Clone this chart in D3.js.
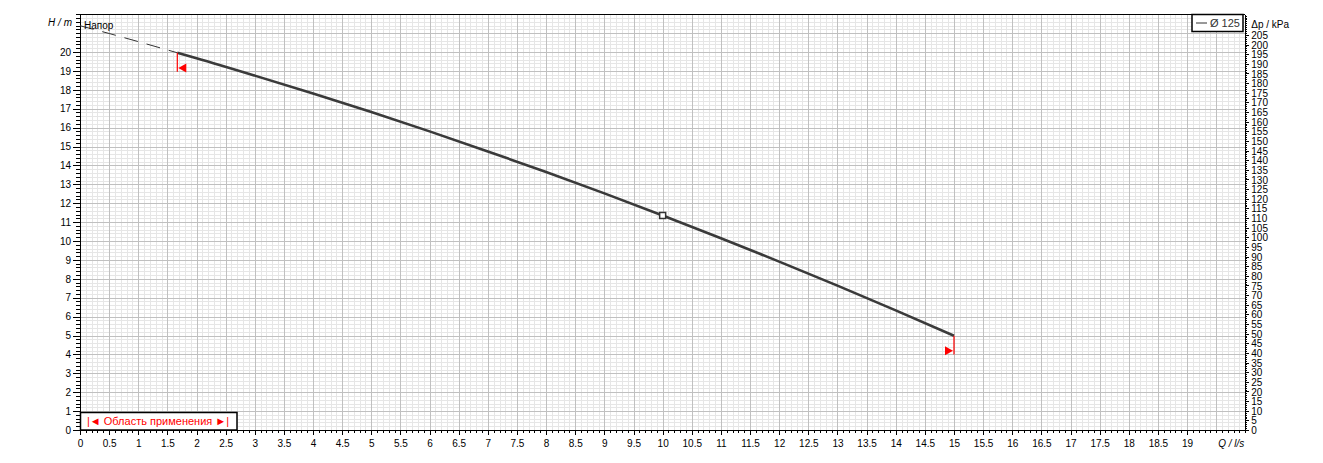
<!DOCTYPE html>
<html><head><meta charset="utf-8">
<script src="https://cdn.jsdelivr.net/npm/d3@7"></script>
<style>
html,body{margin:0;padding:0;background:#fff;}
svg{display:block;font-family:"Liberation Sans",Arial,sans-serif;}
</style></head>
<body><svg id="c" width="1323" height="463"></svg>
<script>
// ---- data ----
const dashedQ = [0, 0.5, 1.0, 1.67];
const dashedH = [21.39, 20.98, 20.55, 19.96];
const curveQ = [1.67, 2, 3, 4, 5, 6, 7, 8, 9, 10, 11, 12, 13, 14, 15];
const curveH = [19.96, 19.67, 18.75, 17.80, 16.82, 15.80, 14.74, 13.65, 12.52, 11.35, 10.15, 8.91, 7.64, 6.33, 4.99];
const dutyQ = [10];
const dutyH = [11.35];
const rangeQ = [1.67, 15];
const rangeH = [19.96, 4.99];
const xTickValues = [0,0.5,1,1.5,2,2.5,3,3.5,4,4.5,5,5.5,6,6.5,7,7.5,8,8.5,9,9.5,10,10.5,11,11.5,12,12.5,13,13.5,14,14.5,15,15.5,16,16.5,17,17.5,18,18.5,19];
const yTickValues = [0,1,2,3,4,5,6,7,8,9,10,11,12,13,14,15,16,17,18,19,20];
const kpaTickValues = d3.range(0, 206, 5);
const legendLabel = "Ø 125";
const rangeLabel = "|◄ Область применения ►|";
const curveLabel = "Напор";
const xAxisTitle = "Q / l/s";
const yAxisTitle = "H / m";
const y2AxisTitle = "Δp / kPa";

// ---- layout ----
const svg = d3.select("#c");
const L = 80, R = 1245.3, T = 14.2, B = 430;
const x = d3.scaleLinear().domain([0, 20]).range([L, R]);
const y = d3.scaleLinear().domain([0, 22]).range([B, T]);
const y2 = d3.scaleLinear().domain([0, 22 * 9.80665]).range([B, T]);

// grid
const g = svg.append("g").attr("shape-rendering", "crispEdges");
const minorX = d3.range(0, 200).map(i => i / 10).filter(v => Math.round(v * 10) % 5 !== 0);
const minorY = d3.range(0, 110).map(i => i / 5).filter(v => Math.round(v * 5) % 5 !== 0);
g.selectAll(".mx").data(minorX).join("line")
  .attr("x1", d => Math.round(x(d)) + 0.5).attr("x2", d => Math.round(x(d)) + 0.5)
  .attr("y1", T).attr("y2", B).attr("stroke", "#e6e6e6");
g.selectAll(".my").data(minorY).join("line")
  .attr("y1", d => Math.round(y(d)) + 0.5).attr("y2", d => Math.round(y(d)) + 0.5)
  .attr("x1", L).attr("x2", R).attr("stroke", "#e6e6e6");
g.selectAll(".Mx").data(d3.range(1, 40).map(i => i / 2)).join("line")
  .attr("x1", d => Math.round(x(d)) + 0.5).attr("x2", d => Math.round(x(d)) + 0.5)
  .attr("y1", T).attr("y2", B).attr("stroke", "#c0c0c0");
g.selectAll(".My").data(d3.range(1, 22)).join("line")
  .attr("y1", d => Math.round(y(d)) + 0.5).attr("y2", d => Math.round(y(d)) + 0.5)
  .attr("x1", L).attr("x2", R).attr("stroke", "#c0c0c0");

// frame
g.append("line").attr("x1", L).attr("x2", R).attr("y1", Math.round(T)+0.5).attr("y2", Math.round(T)+0.5).attr("stroke", "#000");

// axes
const fmtX = d => (Math.round(d) === d ? String(d) : d.toFixed(1));
const xAxis = svg.append("g").attr("transform", `translate(0,${B})`)
  .call(d3.axisBottom(x).tickValues(xTickValues).tickFormat(fmtX).tickSize(5).tickPadding(5).tickSizeOuter(0));
const xMinor = svg.append("g").attr("transform", `translate(0,${B})`)
  .call(d3.axisBottom(x).tickValues(d3.range(0, 201).map(i => i / 10)).tickFormat("").tickSize(3).tickSizeOuter(0));
const yAxis = svg.append("g").attr("transform", `translate(${L},0)`)
  .call(d3.axisLeft(y).tickValues(yTickValues).tickFormat(d => d).tickSize(7).tickPadding(2).tickSizeOuter(0));
const yMinor = svg.append("g").attr("transform", `translate(${L},0)`)
  .call(d3.axisLeft(y).tickValues(d3.range(0, 111).map(i => i / 5)).tickFormat("").tickSize(4).tickSizeOuter(0));
const y2Axis = svg.append("g").attr("transform", `translate(${R},0)`)
  .call(d3.axisRight(y2).tickValues(kpaTickValues).tickFormat(d => d).tickSize(4).tickPadding(2).tickSizeOuter(0));
const y2Minor = svg.append("g").attr("transform", `translate(${R},0)`)
  .call(d3.axisRight(y2).tickValues(d3.range(0, 216)).tickFormat("").tickSize(2).tickSizeOuter(0));
[xAxis, xMinor, yAxis, yMinor, y2Axis, y2Minor].forEach(a => {
  a.attr("shape-rendering", "crispEdges");
  a.selectAll("line,path").attr("stroke", "#000");
  a.selectAll("text").attr("font-size", 10).attr("fill", "#000")
   .attr("font-family", "'Liberation Sans',Arial,sans-serif");
});
y2Axis.selectAll("text").attr("dy", "0.36em");

// axis titles
svg.append("text").attr("x", 72).attr("y", y(21.57)).attr("dy", "0.35em").attr("text-anchor", "end")
  .attr("font-size", 10).attr("font-style", "italic").text(yAxisTitle);
svg.append("text").attr("x", R + 6).attr("y", y2(210.5)).attr("dy", "0.35em")
  .attr("font-size", 10).text(y2AxisTitle);
svg.append("text").attr("x", R - 1).attr("y", B + 17).attr("text-anchor", "end")
  .attr("font-size", 10).attr("font-style", "italic").text(xAxisTitle);

// curves
const line = d3.line().x(d => x(d[0])).y(d => y(d[1]));
svg.append("path").datum(d3.zip(dashedQ, dashedH)).attr("d", line)
  .attr("fill", "none").attr("stroke", "#333").attr("stroke-width", 1).attr("stroke-dasharray", "14,9");
svg.append("path").datum(d3.zip(curveQ, curveH)).attr("d", d3.line().curve(d3.curveMonotoneX).x(d => x(d[0])).y(d => y(d[1])))
  .attr("fill", "none").attr("stroke", "#3a3a3a").attr("stroke-width", 2.6);

// range markers
const red = "#ff0000";
rangeQ.forEach((q, i) => {
  const px = x(q), py = y(rangeH[i]);
  svg.append("line").attr("x1", px).attr("x2", px).attr("y1", py).attr("y2", y(rangeH[i] - 1))
    .attr("stroke", red).attr("stroke-width", 1.2);
  const cy = y(rangeH[i] - 0.8);
  const pts = i === 0
    ? [[px + 1, cy], [px + 9, cy - 4.5], [px + 9, cy + 4.5]]
    : [[px - 1, cy], [px - 9, cy - 4.5], [px - 9, cy + 4.5]];
  svg.append("polygon").attr("points", pts.map(p => p.join(",")).join(" ")).attr("fill", red);
});

// duty point
svg.selectAll(".duty").data(d3.zip(dutyQ, dutyH)).join("rect")
  .attr("x", d => x(d[0]) - 3).attr("y", d => y(d[1]) - 3).attr("width", 6).attr("height", 6)
  .attr("fill", "#fff").attr("stroke", "#333").attr("stroke-width", 1.5);

// curve label
svg.append("text").attr("x", 84).attr("y", 25).attr("dy", "0.35em").attr("font-size", 10).text(curveLabel);

// legend top-right
svg.append("rect").attr("x", 1192).attr("y", 14.5).attr("width", 51).attr("height", 17)
  .attr("fill", "#fff").attr("stroke", "#000").attr("stroke-width", 1.5);
svg.append("line").attr("x1", 1196).attr("x2", 1207).attr("y1", 23).attr("y2", 23).attr("stroke", "#333");
svg.append("text").attr("x", 1210).attr("y", 23).attr("dy", "0.36em").attr("font-size", 11).attr("fill", "#333").text(legendLabel);

// legend bottom-left
svg.append("rect").attr("x", 80.5).attr("y", 412.5).attr("width", 156.5).attr("height", 17.5)
  .attr("fill", "#fff").attr("stroke", "#000").attr("stroke-width", 1.5);
svg.append("text").attr("x", 158).attr("y", 421.5).attr("dy", "0.36em").attr("text-anchor", "middle")
  .attr("font-size", 11).attr("fill", red).text(rangeLabel);
</script>
</body></html>
